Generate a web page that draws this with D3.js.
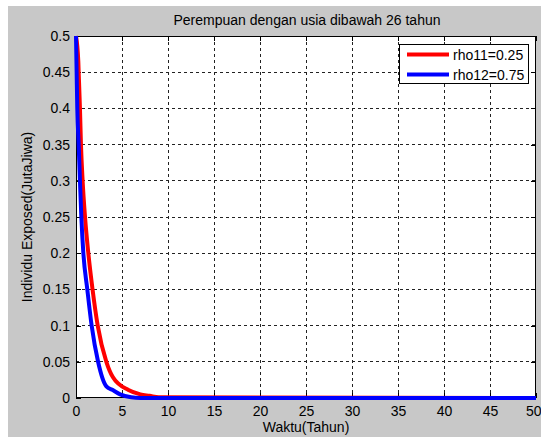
<!DOCTYPE html>
<html><head><meta charset="utf-8">
<script src="https://cdn.jsdelivr.net/npm/d3@7"></script>
<style>body{margin:0;background:#fff}text{font-family:"Liberation Sans",Arial,sans-serif}</style>
</head><body><svg id="c" width="541" height="437"></svg>
<script>
const titleText = "Perempuan dengan usia dibawah 26 tahun";
const xLabel = "Waktu(Tahun)";
const yLabel = "Individu Exposed(JutaJiwa)";
const xTicks = [0,5,10,15,20,25,30,35,40,45,50];
const yTicks = [0,0.05,0.1,0.15,0.2,0.25,0.3,0.35,0.4,0.45,0.5];
const seriesNames = ["rho11=0.25","rho12=0.75"];
const seriesColors = ["#ff0000","#0000ff"];
const redT = [0,0.25,0.29,0.43,0.54,0.72,0.98,1.34,1.8,2.36,3.3,4.0,5.7,7,8,9,50];
const redV = [0.5,0.465,0.45,0.40,0.35,0.30,0.25,0.20,0.15,0.10,0.05,0.029,0.011,0.005,0.003,0.001,0];
const blueT = [0,0.07,0.14,0.29,0.43,0.58,0.8,1.23,1.7,2.4,3.3,4.0,4.8,6,7,50];
const blueV = [0.5,0.45,0.40,0.35,0.30,0.25,0.20,0.15,0.10,0.05,0.016,0.011,0.005,0.001,0,0];

const FS = 14;
const svg = d3.select("#c");
svg.append("rect").attr("x",8).attr("y",6).attr("width",533).attr("height",431).attr("fill","#c8c8c8");
const L=76,R=536,T=36,B=398;
const x = d3.scaleLinear().domain([0,50]).range([L,R]);
const y = d3.scaleLinear().domain([0,0.5]).range([B,T]);
svg.append("rect").attr("x",L).attr("y",T).attr("width",R-L).attr("height",B-T).attr("fill","#fff");
const g = svg.append("g");
g.selectAll(".gx").data(xTicks.slice(1,-1)).enter().append("line")
 .attr("x1",d=>x(d)).attr("x2",d=>x(d)).attr("y1",T).attr("y2",B)
 .attr("stroke","#222").attr("stroke-dasharray","3,3").attr("stroke-width",1).attr("shape-rendering","crispEdges");
g.selectAll(".gy").data(yTicks.slice(1,-1)).enter().append("line")
 .attr("y1",d=>y(d)).attr("y2",d=>y(d)).attr("x1",L).attr("x2",R)
 .attr("stroke","#222").attr("stroke-dasharray","3,3").attr("stroke-width",1).attr("shape-rendering","crispEdges");
const xa = svg.append("g").attr("transform",`translate(0,${B})`)
 .call(d3.axisBottom(x).tickValues(xTicks).tickSize(-5).tickPadding(8).tickFormat(d3.format("d")));
const xt = svg.append("g").attr("transform",`translate(0,${T})`)
 .call(d3.axisTop(x).tickValues(xTicks).tickSize(-5).tickFormat(""));
const ya = svg.append("g").attr("transform",`translate(${L},0)`)
 .call(d3.axisLeft(y).tickValues(yTicks).tickSize(-5).tickPadding(6).tickFormat(d=>String(+d.toFixed(2))));
const yr = svg.append("g").attr("transform",`translate(${R},0)`)
 .call(d3.axisRight(y).tickValues(yTicks).tickSize(-5).tickFormat(""));
[xa,xt,ya,yr].forEach(a=>{a.select(".domain").remove();a.selectAll("line").attr("stroke","#000").attr("shape-rendering","crispEdges");
 a.selectAll("text").attr("font-size",FS).attr("fill","#000").attr("font-family","Liberation Sans, Arial, sans-serif");});
// last x label sits at the figure's right edge
xa.selectAll(".tick").filter(d=>d===50).select("text").attr("text-anchor","end").attr("x",541-R);
svg.append("rect").attr("x",L+0.5).attr("y",T+0.5).attr("width",R-L-1).attr("height",B-T-1)
 .attr("fill","none").attr("stroke","#000").attr("stroke-width",1);
const line = d3.line().x(d=>x(d[0])).y(d=>y(d[1])).curve(d3.curveMonotoneX);
const redData = redT.map((t,i)=>[t,redV[i]]);
const blueData = blueT.map((t,i)=>[t,blueV[i]]);
svg.append("path").datum(redData).attr("d",line).attr("fill","none").attr("stroke",seriesColors[0]).attr("stroke-width",4);
svg.append("path").datum(blueData).attr("d",line).attr("fill","none").attr("stroke",seriesColors[1]).attr("stroke-width",4);
svg.append("text").attr("x",(L+R)/2+1).attr("y",25).attr("text-anchor","middle").attr("font-size",FS).text(titleText);
svg.append("text").attr("x",(L+R)/2).attr("y",432).attr("text-anchor","middle").attr("font-size",FS).text(xLabel);
svg.append("text").attr("transform",`translate(32,${(T+B)/2}) rotate(-90)`).attr("text-anchor","middle").attr("font-size",FS).text(yLabel);
const lg = svg.append("g");
lg.append("rect").attr("x",399.5).attr("y",44.5).attr("width",129).attr("height",39).attr("fill","#fff").attr("stroke","#000");
seriesNames.forEach((n,i)=>{
 const yy = 54.5 + i*20;
 lg.append("line").attr("x1",407).attr("x2",449).attr("y1",yy).attr("y2",yy).attr("stroke",seriesColors[i]).attr("stroke-width",4);
 lg.append("text").attr("x",453).attr("y",yy+5).attr("font-size",FS).text(n);
});
</script></body></html>
